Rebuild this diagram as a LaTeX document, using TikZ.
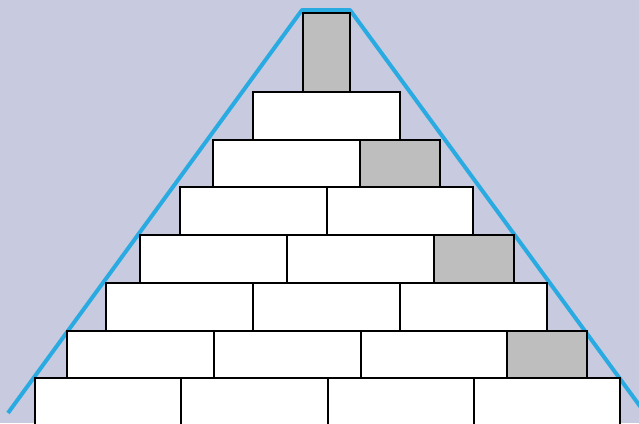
\documentclass[tikz,border=0pt]{standalone}
\usetikzlibrary{positioning}
\definecolor{bg}{HTML}{C8CADF}
\definecolor{brickgray}{HTML}{BEBEBF}
\definecolor{lineblue}{HTML}{29ABE2}
\begin{document}
\begin{tikzpicture}[x=1pt,y=-1pt,
  brick/.style={draw=black, line width=2pt, fill=white, rectangle, inner sep=0pt, outer sep=0pt, anchor=north west, minimum height=47.7pt},
  wb/.style={brick, minimum width=#1},
  gb/.style={brick, fill=brickgray, minimum width=#1},
  outline/.style={draw=lineblue, line width=4pt, line join=round}]
\fill[bg] (0,0) rectangle (639,423);
\useasboundingbox (0,0) rectangle (639,423);
% blue outline (behind the bricks)
\coordinate (bl) at (8,413);
\coordinate (tl) at (302,10);
\coordinate (tr) at (350,10);
\coordinate (br) at (645,413);
\draw[outline] (bl) -- (tl) -- (tr) -- (br);
% top upright brick
\node[brick, fill=brickgray, minimum width=47pt, minimum height=79pt] (t) at (303,13) {};
% row 1
\node[wb=147pt] (r1a) at (253,92) {};
% row 2
\node[wb=147pt] (r2a) at (213,139.7) {};
\node[gb=80pt] (r2b) at (360,139.7) {};
% row 3
\node[wb=147pt] (r3a) at (180,187.4) {};
\node[wb=146pt] (r3b) at (327,187.4) {};
% row 4
\node[wb=147pt] (r4a) at (140,235.1) {};
\node[wb=146.5pt] (r4b) at (287,235.1) {};
\node[gb=80pt] (r4c) at (433.5,235.1) {};
% row 5
\node[wb=147pt] (r5a) at (106,282.8) {};
\node[wb=147pt] (r5b) at (253,282.8) {};
\node[wb=147pt] (r5c) at (400,282.8) {};
% row 6
\node[wb=147pt] (r6a) at (67,330.5) {};
\node[wb=146.5pt] (r6b) at (214,330.5) {};
\node[wb=146.5pt] (r6c) at (360.5,330.5) {};
\node[gb=80pt] (r6d) at (507,330.5) {};
% row 7
\node[wb=146.25pt] (r7a) at (35,378.2) {};
\node[wb=146.25pt] (r7b) at (181.25,378.2) {};
\node[wb=146.25pt] (r7c) at (327.5,378.2) {};
\node[wb=146.25pt] (r7d) at (473.75,378.2) {};
\end{tikzpicture}
\end{document}
